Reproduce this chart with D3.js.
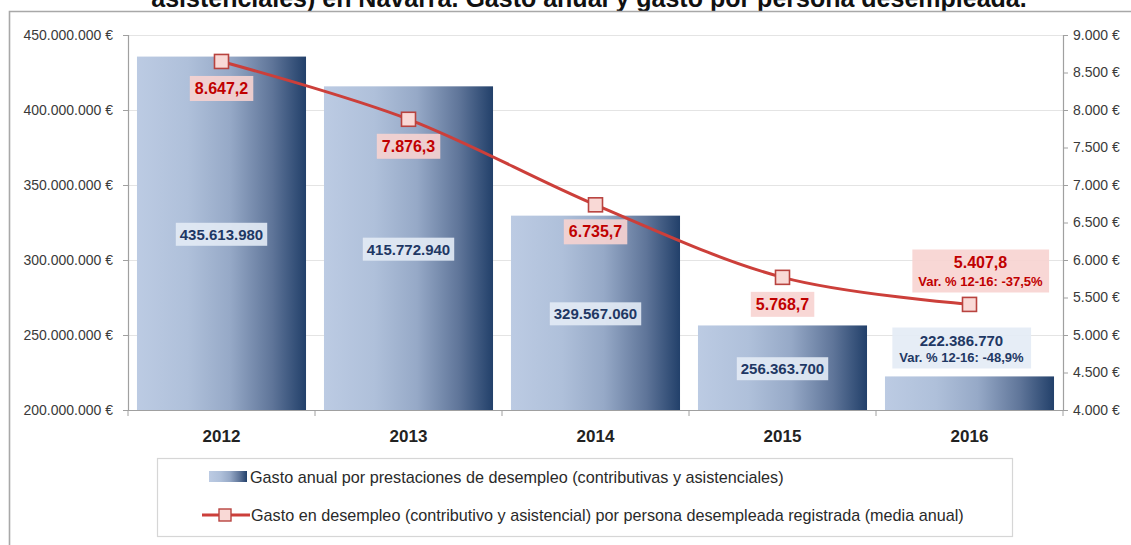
<!DOCTYPE html>
<html>
<head>
<meta charset="utf-8">
<script src="https://cdn.jsdelivr.net/npm/d3@7"></script>
<style>
  html, body { margin: 0; padding: 0; background: #fff; }
  svg { display: block; font-family: "Liberation Sans", Arial, sans-serif; }
</style>
</head>
<body>
<svg id="chart" width="1131" height="545"></svg>
<script>
// Gasto en prestaciones por desempleo en Navarra, 2012-2016
const years = ["2012", "2013", "2014", "2015", "2016"];
const gastoAnual = [435613980, 415772940, 329567060, 256363700, 222386770];
const gastoPorPersona = [8647.2, 7876.3, 6735.7, 5768.7, 5407.8];
const leftTicks = [200000000, 250000000, 300000000, 350000000, 400000000, 450000000];
const rightTicks = [4000, 4500, 5000, 5500, 6000, 6500, 7000, 7500, 8000, 8500, 9000];
const titleText = "asistenciales) en Navarra. Gasto anual y gasto por persona desempleada.";
const legendLabels = [
  "Gasto anual por prestaciones de desempleo (contributivas y asistenciales)",
  "Gasto en desempleo (contributivo y asistencial) por persona desempleada registrada (media anual)"
];

const es = d3.formatLocale({ decimal: ",", thousands: ".", grouping: [3], currency: ["", " €"], minus: "-" });
const fmtInt = es.format(",d");
const fmtDec = es.format(",.1f");
const fmtPct = es.format(".1f");

const svg = d3.select("#chart");
const plot = { left: 128, right: 1063, top: 35, bottom: 410 };

const x = d3.scaleBand().domain(years).range([plot.left, plot.right]).paddingInner(0.096).paddingOuter(0.048);
const yL = d3.scaleLinear().domain([200000000, 450000000]).range([plot.bottom, plot.top]);
const yR = d3.scaleLinear().domain([4000, 9000]).range([plot.bottom, plot.top]);

// gradients
const defs = svg.append("defs");
const grad = defs.append("linearGradient").attr("id", "barGrad").attr("x1", 0).attr("x2", 1).attr("y1", 0).attr("y2", 0);
[[0, "#bccbe3"], [0.3, "#afc0da"], [0.55, "#96a9c7"], [0.8, "#5f7599"], [1, "#22406a"]]
  .forEach(([o, c]) => grad.append("stop").attr("offset", o).attr("stop-color", c));

// title (partially above the visible area)
svg.append("text")
  .attr("x", 589).attr("y", 7)
  .attr("text-anchor", "middle")
  .attr("font-weight", "bold")
  .attr("font-size", 25)
  .attr("fill", "#111")
  .text(titleText);

// outer frame
svg.append("path")
  .attr("d", "M9.5,560 V11.5 H1140")
  .attr("fill", "none").attr("stroke", "#a8a8a8").attr("stroke-width", 1.6);

// gridlines
svg.append("g").selectAll("line").data(leftTicks.slice(1)).join("line")
  .attr("x1", plot.left).attr("x2", plot.right)
  .attr("y1", d => Math.round(yL(d)) + 0.5).attr("y2", d => Math.round(yL(d)) + 0.5)
  .attr("stroke", "#e4e4e4").attr("stroke-width", 1);

// bars
svg.append("g").selectAll("rect").data(years).join("rect")
  .attr("x", d => x(d)).attr("width", x.bandwidth())
  .attr("y", (d, i) => yL(gastoAnual[i]))
  .attr("height", (d, i) => plot.bottom - yL(gastoAnual[i]))
  .attr("fill", "url(#barGrad)");

// axes
const axisColor = "#a0a0a0";
const gL = svg.append("g").attr("transform", `translate(${plot.left},0)`)
  .call(d3.axisLeft(yL).tickValues(leftTicks).tickSize(5).tickPadding(10).tickFormat(d => fmtInt(d) + " €"));
const gR = svg.append("g").attr("transform", `translate(${plot.right},0)`)
  .call(d3.axisRight(yR).tickValues(rightTicks).tickSize(5).tickPadding(5).tickFormat(d => fmtInt(d) + " €"));
[gL, gR].forEach(g => {
  g.select(".domain").attr("stroke", axisColor).attr("stroke-width", 1.2);
  g.selectAll(".tick line").attr("stroke", axisColor);
  g.selectAll("text").attr("font-size", 14).attr("fill", "#3a3a3a")
    .attr("font-family", "'Liberation Sans', Arial, sans-serif");
});

// category axis
const gX = svg.append("g").attr("transform", `translate(0,${plot.bottom})`)
  .call(d3.axisBottom(x).tickSize(0).tickPadding(20));
gX.select(".domain").attr("stroke", axisColor).attr("stroke-width", 1.2);
gX.selectAll("text").attr("font-size", 17).attr("font-weight", "bold").attr("fill", "#222")
  .attr("font-family", "'Liberation Sans', Arial, sans-serif");
const step = x.step();
const bounds = d3.range(years.length + 1).map(i => plot.left + i * step);
svg.append("g").selectAll("line").data(bounds).join("line")
  .attr("x1", d => d).attr("x2", d => d)
  .attr("y1", plot.bottom).attr("y2", plot.bottom + 6)
  .attr("stroke", axisColor);

// boxed label helper
function boxLabel(g, cx, cy, lines, opts) {
  const grp = g.append("g");
  const texts = lines.map((ln, k) => grp.append("text")
    .attr("x", cx).attr("y", cy + ln.dy)
    .attr("text-anchor", "middle").attr("dominant-baseline", "central")
    .attr("font-size", ln.size).attr("font-weight", "bold")
    .attr("fill", opts.color).text(ln.text));
  let x0 = Infinity, x1 = -Infinity, y0 = Infinity, y1 = -Infinity;
  texts.forEach(t => {
    const b = t.node().getBBox();
    x0 = Math.min(x0, b.x); x1 = Math.max(x1, b.x + b.width);
    y0 = Math.min(y0, b.y); y1 = Math.max(y1, b.y + b.height);
  });
  grp.insert("rect", "text")
    .attr("x", x0 - opts.padX).attr("y", y0 - opts.padY)
    .attr("width", x1 - x0 + 2 * opts.padX).attr("height", y1 - y0 + 2 * opts.padY)
    .attr("fill", opts.fill).attr("fill-opacity", opts.opacity);
}

// bar value labels
const labelG = svg.append("g");
const blueBox = { color: "#1f3864", fill: "#e3ebf5", opacity: 0.9, padX: 4, padY: 3 };
gastoAnual.forEach((v, i) => {
  const cx = x(years[i]) + x.bandwidth() / 2;
  if (i < gastoAnual.length - 1) {
    const cy = (yL(v) + plot.bottom) / 2 + 1;
    boxLabel(labelG, cx, cy, [{ text: fmtInt(v), size: 15, dy: 0 }], blueBox);
  } else {
    const varPct = (v / gastoAnual[0] - 1) * 100;
    boxLabel(labelG, cx - 8, 348, [
      { text: fmtInt(v), size: 15, dy: -8 },
      { text: "Var. % 12-16: " + fmtPct(varPct) + "%", size: 13, dy: 9 }
    ], { ...blueBox, padX: 7, padY: 4 });
  }
});

// per-person line
const pts = gastoPorPersona.map((v, i) => [x(years[i]) + x.bandwidth() / 2, yR(v)]);
svg.append("path")
  .attr("d", d3.line().curve(d3.curveCardinal.tension(0))(pts))
  .attr("fill", "none").attr("stroke", "#cc3f3a").attr("stroke-width", 3);

svg.append("g").selectAll("rect").data(pts).join("rect")
  .attr("x", d => d[0] - 7).attr("y", d => d[1] - 7)
  .attr("width", 14).attr("height", 14)
  .attr("fill", "#f9d9d6").attr("stroke", "#b8433f").attr("stroke-width", 1.6);

const redBox = { color: "#c00000", fill: "#f7d3d0", opacity: 0.9, padX: 5, padY: 4 };
gastoPorPersona.forEach((v, i) => {
  const [cx, cy] = pts[i];
  if (i < gastoPorPersona.length - 1) {
    boxLabel(labelG, cx, cy + 27, [{ text: fmtDec(v), size: 16, dy: 0 }], redBox);
  } else {
    const varPct = (v / gastoPorPersona[0] - 1) * 100;
    boxLabel(labelG, cx + 11, 271, [
      { text: fmtDec(v), size: 16, dy: -9 },
      { text: "Var. % 12-16: " + fmtPct(varPct) + "%", size: 13, dy: 10 }
    ], { ...redBox, padX: 6, padY: 4 });
  }
});

// legend
const lg = svg.append("g");
lg.append("rect").attr("x", 157.5).attr("y", 458.5).attr("width", 855).attr("height", 78)
  .attr("fill", "#fff").attr("stroke", "#d6d6d6").attr("stroke-width", 1.2);
lg.append("rect").attr("x", 209).attr("y", 471).attr("width", 38).attr("height", 11)
  .attr("fill", "url(#barGrad)");
lg.append("text").attr("x", 250).attr("y", 477).attr("dominant-baseline", "central")
  .attr("font-size", 16.2).attr("fill", "#2a2a2a").text(legendLabels[0]);
lg.append("line").attr("x1", 202).attr("x2", 250).attr("y1", 515).attr("y2", 515)
  .attr("stroke", "#cc3f3a").attr("stroke-width", 3);
lg.append("rect").attr("x", 219).attr("y", 509).attr("width", 12).attr("height", 12)
  .attr("fill", "#f9d9d6").attr("stroke", "#b8433f").attr("stroke-width", 1.4);
lg.append("text").attr("x", 251).attr("y", 515).attr("dominant-baseline", "central")
  .attr("font-size", 16.2).attr("fill", "#2a2a2a").text(legendLabels[1]);
</script>
</body>
</html>
